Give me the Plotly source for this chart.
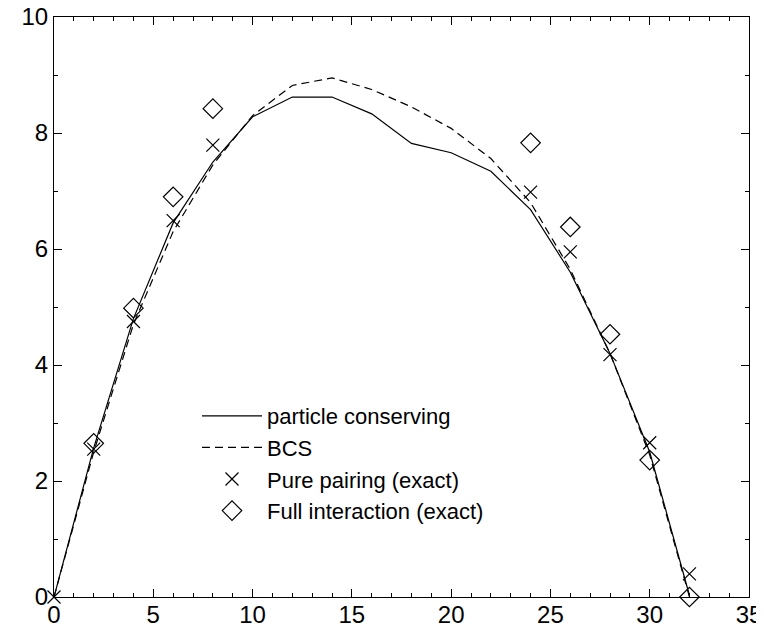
import plotly.graph_objects as go

x_line = [0, 2, 4, 6, 8, 10, 12, 14, 16, 18, 20, 22, 24, 26, 28, 30, 32]
particle_conserving = [0, 2.57, 4.8, 6.45, 7.5, 8.28, 8.62, 8.62, 8.33, 7.82, 7.66, 7.34, 6.68, 5.6, 4.2, 2.5, 0.03]
bcs = [0, 2.5, 4.7, 6.3, 7.45, 8.3, 8.82, 8.95, 8.75, 8.45, 8.08, 7.56, 6.8, 5.65, 4.2, 2.45, 0]

x_exact = [0, 2, 4, 6, 8, 24, 26, 28, 30, 32]
pure_pairing = [0, 2.55, 4.75, 6.49, 7.79, 6.98, 5.95, 4.18, 2.66, 0.4]

x_full = [2, 4, 6, 8, 24, 26, 28, 30, 32]
full_interaction = [2.65, 4.98, 6.9, 8.42, 7.83, 6.38, 4.53, 2.36, 0.0]

x_ticks = [0, 5, 10, 15, 20, 25, 30, 35]
y_ticks = [0, 2, 4, 6, 8, 10]

FONT = "Liberation Sans, Arial, sans-serif"

fig = go.Figure()
fig.add_trace(go.Scatter(x=x_line, y=particle_conserving, mode="lines",
                         name="particle conserving", legendgroup="a",
                         line=dict(color="black", width=1.2)))
fig.add_trace(go.Scatter(x=x_line, y=bcs, mode="lines", name="BCS", legendgroup="b",
                         line=dict(color="black", width=1.2, dash="8px,5px")))
fig.add_trace(go.Scatter(x=x_exact, y=pure_pairing, mode="markers",
                         name="Pure pairing (exact)", legendgroup="c",
                         marker=dict(symbol="x-thin-open", size=13, color="black",
                                     line=dict(color="black", width=1.2)),
                         cliponaxis=False))
fig.add_trace(go.Scatter(x=x_full, y=full_interaction, mode="markers",
                         name="Full interaction (exact)", legendgroup="d",
                         marker=dict(symbol="diamond-open", size=15, color="black",
                                     line=dict(color="black", width=1.2)),
                         cliponaxis=False))

axis_common = dict(showgrid=False, zeroline=False, showline=True, linecolor="black",
                   linewidth=1.2, mirror="ticks", ticks="inside", ticklen=8,
                   tickwidth=1, tickcolor="black", automargin=False,
                   ticklabeloverflow="allow",
                   tickfont=dict(family=FONT, size=24, color="black"))

fig.update_xaxes(range=[0, 35], tickvals=x_ticks, ticktext=[str(v) for v in x_ticks],
                 ticklabelstandoff=-4,
                 minor=dict(dtick=1, ticks="inside", ticklen=4, tickcolor="black", tickwidth=1),
                 **axis_common)
fig.update_yaxes(range=[0, 10], tickvals=y_ticks, ticktext=[str(v) for v in y_ticks],
                 minor=dict(dtick=1, ticks="inside", ticklen=4, tickcolor="black", tickwidth=1),
                 **axis_common)

# the page body adds an 8px offset, so the figure is 8px smaller and margins compensate
fig.update_layout(
    width=756, height=622,
    margin=dict(l=46, r=15, t=9, b=33),
    paper_bgcolor="white", plot_bgcolor="white",
    showlegend=True,
    legend=dict(x=(197 - 54) / 695, y=(597 - 395) / 580, xanchor="left", yanchor="top",
                bgcolor="rgba(0,0,0,0)", borderwidth=0,
                font=dict(family=FONT, size=22, color="black"),
                traceorder="grouped", tracegroupgap=0, itemwidth=60),
    font=dict(family=FONT, color="black"),
)

fig.write_html("out.html")
